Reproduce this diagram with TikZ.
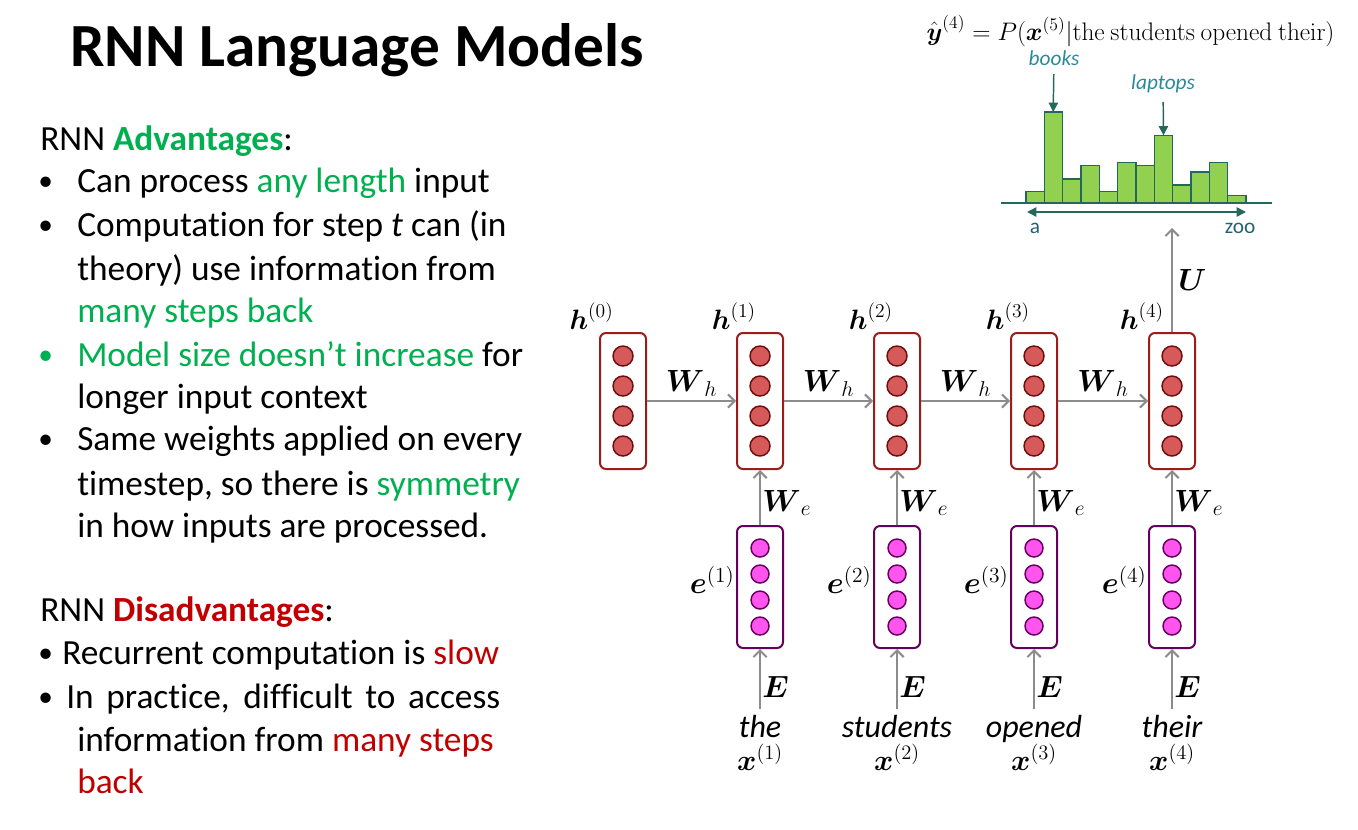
\RequirePackage{fix-cm}
\documentclass[tikz,border=0pt]{standalone}
\usepackage{amsmath}
\usepackage[no-math]{fontspec}
\setmainfont{Carlito}[Ligatures=NoCommon]
\usetikzlibrary{arrows.meta,positioning}
\definecolor{hidred}{HTML}{9C1C1C}
\definecolor{hidfill}{HTML}{D65A5A}
\definecolor{hiddark}{HTML}{6E0E0E}
\definecolor{embpurple}{HTML}{66005E}
\definecolor{embfill}{HTML}{FF55EE}
\definecolor{arrgray}{HTML}{8C8C8C}
\definecolor{bargreen}{HTML}{92D050}
\definecolor{barteal}{HTML}{23695B}
\definecolor{labteal}{HTML}{2A8A9A}
\definecolor{axteal}{HTML}{236371}
\definecolor{advgreen}{HTML}{00B050}
\definecolor{disred}{HTML}{C00000}

\begin{document}
\begin{tikzpicture}[x=0.75pt, y=-0.75pt,
  txt/.style={anchor=base west, inner sep=0pt, font=\fontsize{26.5}{30}\selectfont},
  bul/.style={anchor=base west, inner sep=0pt, font=\fontsize{22}{30}\selectfont},
  hbox/.style={draw=hidred, line width=1.5pt, rounded corners=4.5pt, minimum width=34.5pt, minimum height=102pt, inner sep=0pt},
  ebox/.style={draw=embpurple, line width=1.5pt, rounded corners=4.5pt, minimum width=34.5pt, minimum height=91.5pt, inner sep=0pt},
  hdot/.style={circle, draw=hiddark, fill=hidfill, line width=1.1pt, minimum size=15pt, inner sep=0pt},
  edot/.style={circle, draw=embpurple, fill=embfill, line width=1.1pt, minimum size=13.5pt, inner sep=0pt},
  arr/.style={-{Straight Barb[length=5pt,width=10pt]}, line width=1.5pt, arrgray},
  lab/.style={font=\fontsize{23}{26}\selectfont, text=black, inner sep=1pt},
  word/.style={font=\fontsize{24}{28}\selectfont\itshape, anchor=base, inner sep=0pt},
  bar/.style={draw=barteal, fill=bargreen, line width=1pt},
  tarr/.style={-{Triangle[length=7pt,width=7pt]}, line width=1.1pt, barteal}
]
  \useasboundingbox (0,0) rectangle (1358,829);

  % title and text
  \node[anchor=base west, inner sep=0pt, font=\fontsize{46}{50}\selectfont\bfseries] (title) at (70,66) {RNN Language Models};

  \node[txt] (adv) at (40,150) {RNN \textcolor{advgreen}{\textbf{Advantages}}:};
  \node[bul] (b1) at (38,190) {•};
  \node[txt] (l1) at (77,192) {Can process \textcolor{advgreen}{any length} input};
  \node[bul] (b2) at (38,234) {•};
  \node[txt] (l2) at (77,236) {Computation for step \textit{t} can (in};
  \node[txt] (l3) at (77,280) {theory) use information from};
  \node[txt] (l4) at (77,322) {\textcolor{advgreen}{many steps back}};
  \node[bul, advgreen] (b3) at (38,364) {•};
  \node[txt] (l5) at (77,366) {\textcolor{advgreen}{Model size doesn’t increase} for};
  \node[txt] (l6) at (77,408) {longer input context};
  \node[bul] (b4) at (38,448) {•};
  \node[txt] (l7) at (77,450) {Same weights applied on every};
  \node[txt] (l8) at (77,495) {timestep, so there is \textcolor{advgreen}{symmetry}};
  \node[txt] (l9) at (77,537) {in how inputs are processed.};

  \node[txt] (dis) at (40,621) {RNN \textcolor{disred}{\textbf{Disadvantages}}:};
  \node[bul] (b5) at (38,662) {•};
  \node[txt] (l10) at (62,664) {Recurrent computation is \textcolor{disred}{slow}};
  \node[bul] (b6) at (38,706) {•};
  \node[txt] (l11) at (66,708) {\makebox[325.5pt][s]{In practice, difficult to access}};
  \node[txt] (l12) at (77,751) {information from \textcolor{disred}{many steps}};
  \node[txt] (l13) at (77,793) {\textcolor{disred}{back}};

  % hidden states
  \node[hbox] (h0) at (623,401) {};
  \node[hbox] (h1) at (760,401) {};
  \node[hbox] (h2) at (897,401) {};
  \node[hbox] (h3) at (1034,401) {};
  \node[hbox] (h4) at (1172,401) {};
  % embeddings
  \node[ebox] (e1) at (760,587) {};
  \node[ebox] (e2) at (897,587) {};
  \node[ebox] (e3) at (1034,587) {};
  \node[ebox] (e4) at (1172,587) {};

  \foreach \x in {623,760,897,1034,1172}
    \foreach \dy in {-45,-15,15,45}
      \node[hdot] at (\x,401+\dy) {};
  \foreach \x in {760,897,1034,1172}
    \foreach \dy in {-39,-13,13,39}
      \node[edot] at (\x,587+\dy) {};

  \node[lab, font=\fontsize{21}{24}\selectfont, anchor=south east, inner sep=0pt] (hl0) at ([xshift=-7pt,yshift=2pt]h0.north) {$\boldsymbol{h}^{(0)}$};
  \node[lab, font=\fontsize{21}{24}\selectfont, anchor=south east, inner sep=0pt] (hl1) at ([xshift=-3pt,yshift=2pt]h1.north) {$\boldsymbol{h}^{(1)}$};
  \node[lab, font=\fontsize{21}{24}\selectfont, anchor=south east, inner sep=0pt] (hl2) at ([xshift=-3pt,yshift=2pt]h2.north) {$\boldsymbol{h}^{(2)}$};
  \node[lab, font=\fontsize{21}{24}\selectfont, anchor=south east, inner sep=0pt] (hl3) at ([xshift=-3pt,yshift=2pt]h3.north) {$\boldsymbol{h}^{(3)}$};
  \node[lab, font=\fontsize{21}{24}\selectfont, anchor=south east, inner sep=0pt] (hl4) at ([xshift=-6pt,yshift=2pt]h4.north) {$\boldsymbol{h}^{(4)}$};

  \node[lab, anchor=east] (el1) at ([yshift=5pt]e1.west) {$\boldsymbol{e}^{(1)}$};
  \node[lab, anchor=east] (el2) at ([yshift=5pt]e2.west) {$\boldsymbol{e}^{(2)}$};
  \node[lab, anchor=east] (el3) at ([yshift=5pt]e3.west) {$\boldsymbol{e}^{(3)}$};
  \node[lab, anchor=east] (el4) at ([yshift=5pt]e4.west) {$\boldsymbol{e}^{(4)}$};

  % inputs
  \node[word] (w1) at (760,737) {the};
  \node[word] (w2) at (897,737) {students};
  \node[word] (w3) at (1034,737) {opened};
  \node[word] (w4) at (1172,737) {their};
  \node[lab, anchor=base, inner sep=0pt, font=\fontsize{22}{24}\selectfont] (x1) at (760,770) {$\boldsymbol{x}^{(1)}$};
  \node[lab, anchor=base, inner sep=0pt, font=\fontsize{22}{24}\selectfont] (x2) at (897,770) {$\boldsymbol{x}^{(2)}$};
  \node[lab, anchor=base, inner sep=0pt, font=\fontsize{22}{24}\selectfont] (x3) at (1034,770) {$\boldsymbol{x}^{(3)}$};
  \node[lab, anchor=base, inner sep=0pt, font=\fontsize{22}{24}\selectfont] (x4) at (1172,770) {$\boldsymbol{x}^{(4)}$};

  \draw[arr] (h0) -- node[lab, above=2pt] {$\boldsymbol{W}_h$} (h1);
  \draw[arr] (h1) -- node[lab, above=2pt] {$\boldsymbol{W}_h$} (h2);
  \draw[arr] (h2) -- node[lab, above=2pt] {$\boldsymbol{W}_h$} (h3);
  \draw[arr] (h3) -- node[lab, above=2pt] {$\boldsymbol{W}_h$} (h4);

  \draw[arr] (e1) -- node[lab, right, yshift=-4pt] {$\boldsymbol{W}_e$} (h1);
  \draw[arr] (e2) -- node[lab, right, yshift=-4pt] {$\boldsymbol{W}_e$} (h2);
  \draw[arr] (e3) -- node[lab, right, yshift=-4pt] {$\boldsymbol{W}_e$} (h3);
  \draw[arr] (e4) -- node[lab, right, yshift=-4pt] {$\boldsymbol{W}_e$} (h4);

  \draw[arr, shorten <=4pt] (w1) -- node[lab, right, yshift=-4pt] {$\boldsymbol{E}$} (e1);
  \draw[arr, shorten <=4pt] (w2) -- node[lab, right, yshift=-4pt] {$\boldsymbol{E}$} (e2);
  \draw[arr, shorten <=4pt] (w3) -- node[lab, right, yshift=-4pt] {$\boldsymbol{E}$} (e3);
  \draw[arr, shorten <=4pt] (w4) -- node[lab, right, yshift=-4pt] {$\boldsymbol{E}$} (e4);

  \coordinate (dist) at (1172,228);
  \draw[arr] (h4) -- node[lab, right, xshift=3pt] {$\boldsymbol{U}$} (dist);

  % output distribution
  \node[anchor=base east, inner sep=0pt, font=\fontsize{19}{22}\selectfont] (yhat) at (1335,40)
    {$\hat{\boldsymbol{y}}^{(4)} = P(\boldsymbol{x}^{(5)}|\mathrm{the\ students\ opened\ their})$};
  \foreach \h [count=\k from 0] in {11,90.7,23.7,37,11,40.3,37,67.3,17.7,30.7,40.3,7.3}
    \draw[bar] ({1026+18.33*\k},202.7) rectangle ++(18.33,-\h);
  \draw[barteal, line width=1.5pt] (1001,202.7) -- (1272,202.7);
  \coordinate (axl) at (1027,212);
  \coordinate (axr) at (1246,212);
  \draw[tarr, {Triangle[length=7pt,width=7pt]}-{Triangle[length=7pt,width=7pt]}] (axl) -- (axr);
  \node[font=\fontsize{16}{18}\selectfont, axteal] (va) at (1035,228) {a};
  \node[font=\fontsize{16}{18}\selectfont, axteal] (vzoo) at (1240,228) {zoo};

  \node[font=\fontsize{16}{18}\selectfont\itshape, labteal] (books) at (1054,58) {books};
  \node[font=\fontsize{16}{18}\selectfont\itshape, labteal] (laptops) at (1163,84) {laptops};
  \coordinate (bktop) at (1053.2,112);
  \coordinate (lptop) at (1163.5,135.4);
  \draw[tarr, shorten <=3pt] (books) -- (bktop);
  \draw[tarr, shorten <=3pt] (laptops) -- (lptop);
\end{tikzpicture}
\end{document}
